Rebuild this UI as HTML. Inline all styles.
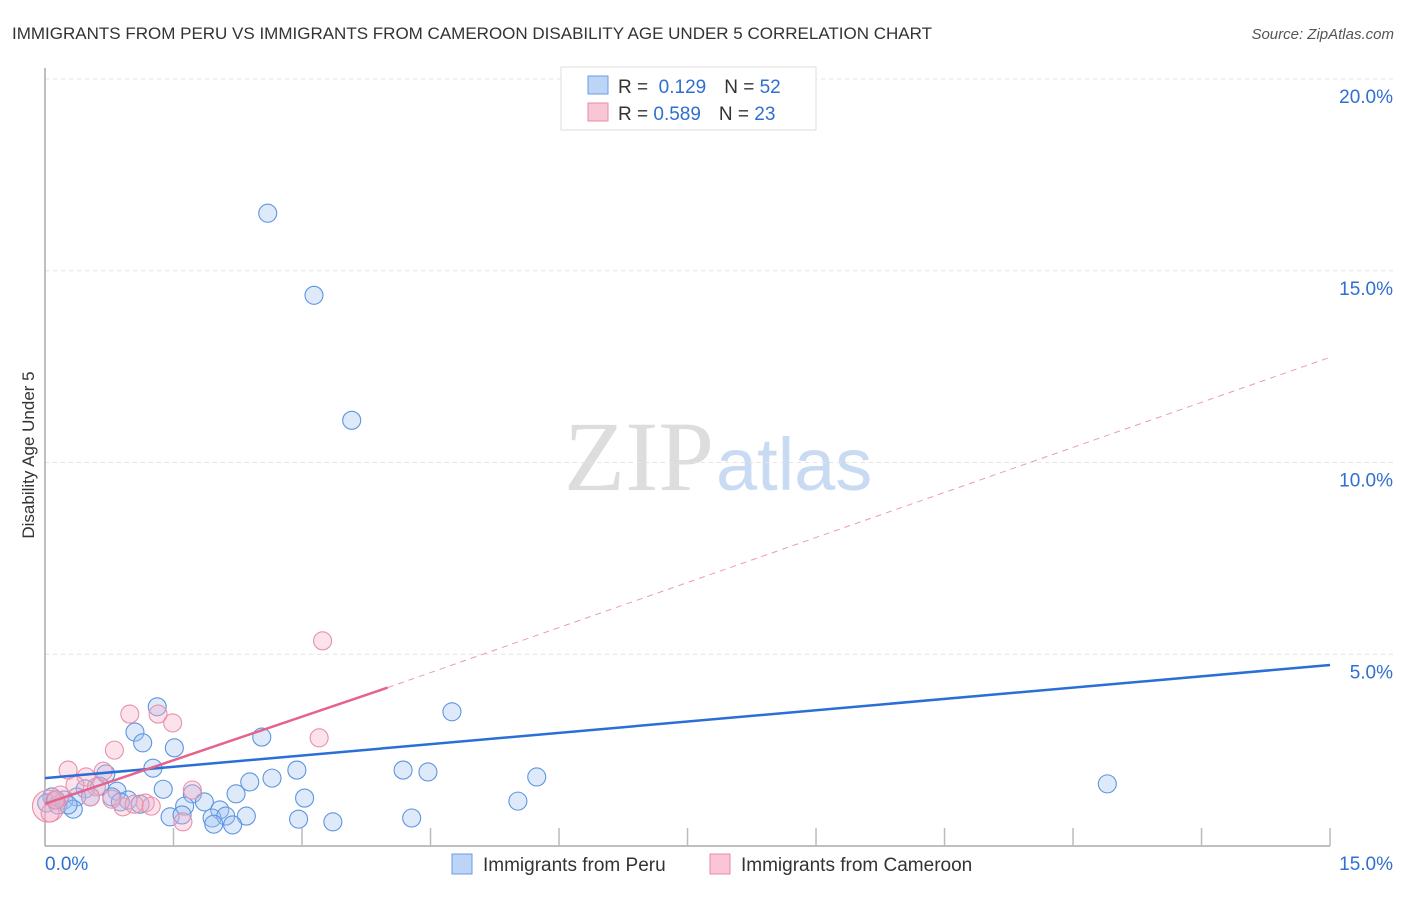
<!DOCTYPE html>
<html><head><meta charset="utf-8"><style>
body{margin:0;background:#fff;font-family:"Liberation Sans",sans-serif;}
</style></head><body>
<svg width="1406" height="892" xmlns="http://www.w3.org/2000/svg" font-family="Liberation Sans, sans-serif">
<text x="12" y="39" font-size="17" fill="#333">IMMIGRANTS FROM PERU VS IMMIGRANTS FROM CAMEROON DISABILITY AGE UNDER 5 CORRELATION CHART</text>
<text x="1394" y="39" font-size="15" fill="#555" text-anchor="end" font-style="italic">Source: ZipAtlas.com</text>
<text x="714" y="490" font-size="100" fill="#ddd" text-anchor="end" font-family="Liberation Serif, serif">ZIP</text>
<text x="716" y="490" font-size="74" fill="#c9dbf3">atlas</text>
<g id="grid"></g>
<g id="axes"></g>
<g id="marks"></g>
<text transform="translate(34,455) rotate(-90)" font-size="17" fill="#333" text-anchor="middle">Disability Age Under 5</text>
<g>
<rect x="561" y="67" width="255" height="63" fill="#fff" stroke="#ddd"/>
<rect x="588" y="76" width="20" height="18" fill="#bcd4f5" stroke="#6a9de6"/>
<rect x="588" y="103" width="20" height="18" fill="#f9c6d5" stroke="#e88aa8"/>
<text x="618" y="93" font-size="19" fill="#333">R = <tspan fill="#2f6fd1">&#160;0.129</tspan><tspan dx="18">N = </tspan><tspan fill="#2f6fd1">52</tspan></text>
<text x="618" y="120" font-size="19" fill="#333">R = <tspan fill="#2f6fd1">0.589</tspan><tspan dx="18">N = </tspan><tspan fill="#2f6fd1">23</tspan></text>
</g>
<g>
<rect x="452" y="854" width="20" height="20" fill="#bcd4f5" stroke="#6a9de6"/>
<text x="483" y="871" font-size="19" fill="#333">Immigrants from Peru</text>
<rect x="710" y="854" width="20" height="20" fill="#f9c6d5" stroke="#e88aa8"/>
<text x="741" y="871" font-size="19" fill="#333">Immigrants from Cameroon</text>
</g>
</svg>
<script>
const yTicks=[5,10,15,20];
const yTickLabels=["5.0%","10.0%","15.0%","20.0%"];
const xTicks=[1.5,3,4.5,6,7.5,9,10.5,12,13.5,15];
const peruX=[2.6,3.14,3.58,4.75,1.31,1.05,1.14,1.51,2.53,1.26,0.71,2.94,4.18,4.47,5.74,12.4,2.39,2.65,1.38,2.23,1.72,0.84,0.64,0.47,3.03,5.52,1.86,1.63,0.97,0.78,0.37,0.22,0.08,0.02,0.15,0.33,2.04,1.46,1.6,1.95,2.11,2.35,2.96,3.36,4.28,2.19,1.97,0.53,1.11,0.88,0.27,0.12];
const peruY=[16.5,14.36,11.1,3.5,3.63,2.97,2.69,2.56,2.84,2.03,1.88,1.98,1.98,1.93,1.8,1.62,1.67,1.77,1.48,1.36,1.36,1.43,1.56,1.49,1.25,1.17,1.15,1.04,1.2,1.28,1.28,1.2,1.28,1.12,1.07,0.96,0.94,0.76,0.81,0.73,0.78,0.78,0.70,0.63,0.73,0.55,0.57,1.28,1.09,1.15,1.07,1.2];
const camX=[3.24,0.99,1.32,1.49,3.2,0.81,0.27,0.68,0.48,1.72,0.35,0.6,0.18,0.53,1.17,1.24,0.91,1.61,0.04,0.06,1.04,0.13,0.78];
const camY=[5.35,3.44,3.44,3.21,2.82,2.5,1.98,1.95,1.8,1.46,1.59,1.54,1.33,1.28,1.12,1.04,1.02,0.63,1.04,0.86,1.09,1.2,1.22];
const camR=[9,9,9,9,9,9,9,9,9,9,9,9,9,9,9,9,9,9,16,9,9,9,9];
const peruTrend=[[0,1.77],[15,4.72]];
const camTrendSolid=[[0,1.1],[4,4.13]];
const camTrendDash=[[4,4.13],[14.97,12.72]];
const X=v=>45+v*85.67, Y=v=>846-v*38.35;
const NS="http://www.w3.org/2000/svg";
function mk(p,t,a){const e=document.createElementNS(NS,t);for(const k in a)e.setAttribute(k,a[k]);p.appendChild(e);return e;}
const grid=document.getElementById('grid'),axes=document.getElementById('axes'),marks=document.getElementById('marks');
yTicks.forEach((t,i)=>{
 const l=mk(grid,'line',{x1:45,x2:1394,y1:Y(t),y2:Y(t),stroke:'#e4e4e4','stroke-dasharray':'4,4'});
 
 
 const tx=mk(axes,'text',{x:1393,y:Y(t)+24,'font-size':19,fill:'#2f6fd1','text-anchor':'end'});tx.textContent=yTickLabels[i];
 
 
});
mk(axes,'line',{x1:45,x2:45,y1:68,y2:846,stroke:'#aaa','stroke-width':1.5});
mk(axes,'line',{x1:45,x2:1330,y1:846,y2:846,stroke:'#aaa','stroke-width':1.5});
xTicks.forEach(t=>{const l=mk(axes,'line',{x1:X(t),x2:X(t),y1:846,y2:828,stroke:'#bbb','stroke-width':1.5});
 
 });
let t1=mk(axes,'text',{x:45,y:870,'font-size':19,fill:'#2f6fd1'});t1.textContent="0.0%";


let t2=mk(axes,'text',{x:1393,y:870,'font-size':19,fill:'#2f6fd1','text-anchor':'end'});t2.textContent="15.0%";


peruX.forEach((x,i)=>{const c=mk(marks,'circle',{cx:X(x),cy:Y(peruY[i]),r:9,fill:'rgba(160,196,242,0.35)',stroke:'#5d95e0','stroke-width':1.1});
 
 });
camX.forEach((x,i)=>{const c=mk(marks,'circle',{cx:X(x),cy:Y(camY[i]),r:camR[i],fill:'rgba(245,175,198,0.35)',stroke:'#e890ab','stroke-width':1.1});
 
 });
let l1=mk(marks,'line',{x1:X(peruTrend[0][0]),y1:Y(peruTrend[0][1]),x2:X(peruTrend[1][0]),y2:Y(peruTrend[1][1]),stroke:'#2b6fd6','stroke-width':2.5});


let l2=mk(marks,'line',{x1:X(camTrendSolid[0][0]),y1:Y(camTrendSolid[0][1]),x2:X(camTrendSolid[1][0]),y2:Y(camTrendSolid[1][1]),stroke:'#e5638c','stroke-width':2.5});


let l3=mk(marks,'line',{x1:X(camTrendDash[0][0]),y1:Y(camTrendDash[0][1]),x2:X(camTrendDash[1][0]),y2:Y(camTrendDash[1][1]),stroke:'#eb9ab4','stroke-width':1,'stroke-dasharray':'6,5'});


</script>
</body></html>
